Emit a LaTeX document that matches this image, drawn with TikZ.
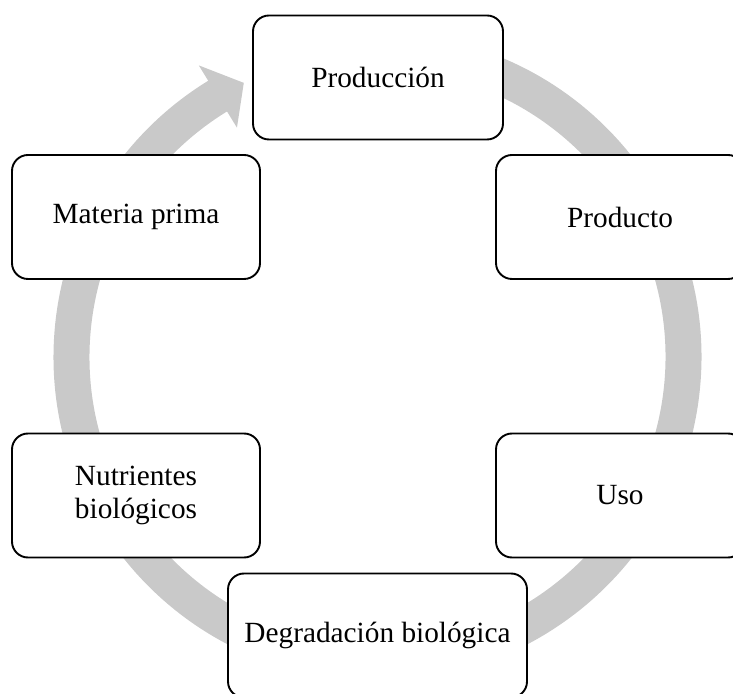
\documentclass[tikz,border=0pt]{standalone}
\usepackage{fontspec}
\setmainfont{Liberation Serif}
\definecolor{ringgray}{RGB}{201,201,201}
\tikzset{
  cyclebox/.style={draw=black, line width=1.9pt, fill=white, rounded corners=16pt,
    minimum width=#1, minimum height=124pt, align=center, inner sep=0pt,
    font=\fontsize{29.3}{33}\selectfont},
  cyclebox/.default=248pt
}
\begin{document}
\begin{tikzpicture}[x=1pt,y=1pt]
\useasboundingbox (0,0) rectangle (733,693);
\clip (0,0) rectangle (733,693);
\coordinate (c) at (377.5,336);
% ring arrow
\fill[ringgray] ([shift={(85:324)}]c) arc[start angle=85, end angle=-238.5, radius=324]
  -- ([shift={(121.5:342)}]c) -- ([shift={(116:305)}]c) -- ([shift={(121.5:269)}]c)
  -- ([shift={(121.5:288)}]c) arc[start angle=-238.5, end angle=85, radius=288] -- cycle;
% boxes
\node[cyclebox=250pt] (prod) at (378,615.5) {Producción};
\node[cyclebox] (producto) at (620,476) {Producto};
\node[cyclebox] (uso) at (620,197.5) {Uso};
\node[cyclebox=299pt] (degr) at (377.5,57.5) {Degradación biológica};
\node[cyclebox] (nutr) at (136,197.5) {Nutrientes\\biológicos};
\node[cyclebox] (mat) at (136,476) {Materia prima};
\end{tikzpicture}
\end{document}
